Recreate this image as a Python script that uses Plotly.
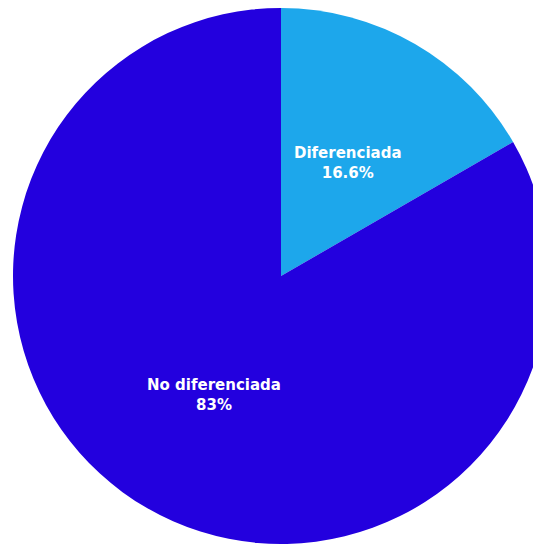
import math
import plotly.graph_objects as go

labels = ["Diferenciada", "No diferenciada"]
values = [16.6, 83]
pct_text = ["16.6%", "83%"]
colors = ["#1DA7EB", "#2300DE"]

fig = go.Figure(
    go.Pie(
        labels=labels,
        values=values,
        sort=False,
        direction="clockwise",
        rotation=0,
        marker=dict(colors=colors, line=dict(width=0)),
        textinfo="none",
        showlegend=False,
        hoverinfo="label+percent",
        domain=dict(x=[0, 1], y=[0, 1]),
    )
)

# label positions: midway along each slice's bisector (half the radius)
total = sum(values)
cum = 0.0
font = dict(family="DejaVu Sans", size=15, color="white", weight="bold")
for lab, val, pt in zip(labels, values, pct_text):
    mid = (cum + val / 2) / total * 2 * math.pi
    cum += val
    x = 0.5 + 0.25 * math.sin(mid)
    y = 0.5 + 0.25 * math.cos(mid)
    fig.add_annotation(x=x, y=y, xref="paper", yref="paper",
                       text=lab + "<br>" + pt,
                       showarrow=False, font=font, yshift=-3,
                       xanchor="center", yanchor="middle")

fig.update_layout(
    width=541,
    height=536,
    margin=dict(l=5, r=0, t=0, b=0),
    paper_bgcolor="white",
    showlegend=False,
)
fig.write_html("out.html")
